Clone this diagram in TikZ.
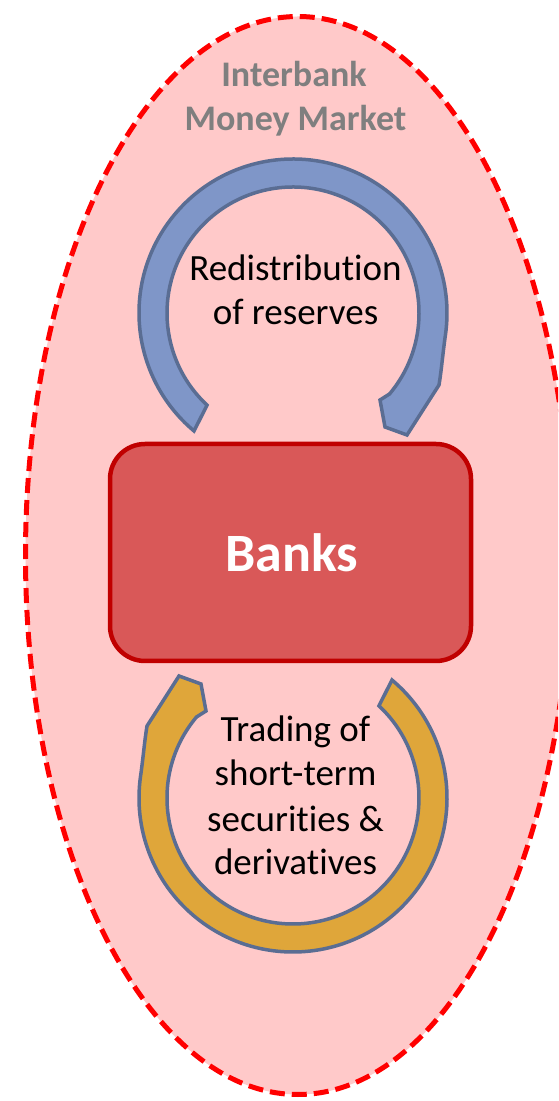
\documentclass[tikz,border=0pt]{standalone}
\usepackage{fontspec}
\setmainfont{Carlito}[Ligatures=NoCommon]
\definecolor{marketfill}{HTML}{FFC9C9}
\definecolor{marketline}{HTML}{FF0000}
\definecolor{bankfill}{HTML}{D95858}
\definecolor{bankline}{HTML}{C00000}
\definecolor{loopblue}{HTML}{7F96C8}
\definecolor{loopgold}{HTML}{DFA63A}
\definecolor{loopline}{HTML}{5A6D93}
\definecolor{labelgray}{HTML}{7F7F7F}
\tikzset{
  market/.style={fill=marketfill, draw=marketline, line width=5pt, dash pattern=on 15pt off 7pt},
  bankbox/.style={draw=bankline, fill=bankfill, line width=4.5pt, rounded corners=35pt,
    minimum width=361pt, minimum height=217pt, inner sep=0pt},
  looparrow/.style={draw=loopline, line width=3.5pt, line join=miter},
  bodytext/.style={font=\fontsize{37}{44}\selectfont, text=black, inner sep=0pt, anchor=base},
  titletext/.style={font=\fontsize{36}{44}\selectfont\bfseries, text=labelgray, inner sep=0pt, anchor=base},
}
% curved band with a one-sided head, centred on the current origin
\newcommand{\cyclearrowpath}{%
  (230:154) arc[start angle=230, end angle=-8, radius=154]
  .. controls (149.7,-41) and (148.5,-57) .. (146,-72) -- (114,-122) -- (92,-114) -- (87,-87)
  -- (-40:126) arc[start angle=-40, end angle=227, radius=126] -- cycle}
\begin{document}
\begin{tikzpicture}[x=1pt, y=1pt]
  \useasboundingbox (0,0) rectangle (558,1101);
  \clip (0,0) rectangle (558,1101);
  \fill[white] (0,0) rectangle (558,1101);

  % the market
  \draw[market] (298,545.5) ellipse[x radius=272.5, y radius=539];
  \node[titletext] (title1) at (294,1014) {Interbank};
  \node[titletext] (title2) at (295.5,970) {Money Market};

  % banks
  \node[bankbox] (banks) at (290.5,548.5) {};
  \node[font=\fontsize{54}{60}\selectfont\bfseries, text=white, inner sep=0pt, anchor=base]
    (bankslabel) at (291.5,529) {Banks};

  % reserves loop above
  \begin{scope}[shift={(293,788)}]
    \filldraw[looparrow, fill=loopblue] \cyclearrowpath;
  \end{scope}
  \node[bodytext] (res1) at (295.5,820) {Redistribution};
  \node[bodytext] (res2) at (295.5,776) {of reserves};

  % trading loop below
  \begin{scope}[shift={(293,303)}, rotate=180]
    \filldraw[looparrow, fill=loopgold] \cyclearrowpath;
  \end{scope}
  \node[bodytext] (trd1) at (295.5,359) {Trading of};
  \node[bodytext] (trd2) at (295.5,315) {short-term};
  \node[bodytext] (trd3) at (295.5,269) {securities \&};
  \node[bodytext] (trd4) at (295.5,226) {derivatives};
\end{tikzpicture}
\end{document}
